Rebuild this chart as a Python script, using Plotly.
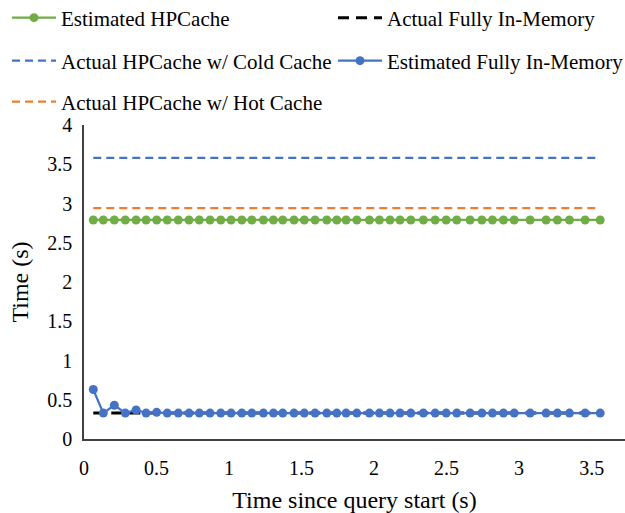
import plotly.graph_objects as go

time_s = [0.064, 0.133, 0.209, 0.285, 0.359, 0.428, 0.501, 0.574, 0.650, 0.724,
          0.795, 0.869, 0.943, 1.014, 1.088, 1.157, 1.237, 1.306, 1.370, 1.448,
          1.519, 1.593, 1.674, 1.743, 1.807, 1.881, 1.968, 2.037, 2.110, 2.179,
          2.253, 2.340, 2.421, 2.497, 2.570, 2.662, 2.743, 2.816, 2.892, 2.966,
          3.076, 3.186, 3.264, 3.347, 3.455, 3.559]

est_hpcache = [2.79, 2.79, 2.79, 2.79, 2.79, 2.79, 2.79, 2.79, 2.79, 2.79,
               2.79, 2.79, 2.79, 2.79, 2.79, 2.79, 2.79, 2.79, 2.79, 2.79,
               2.79, 2.79, 2.79, 2.79, 2.79, 2.79, 2.79, 2.79, 2.79, 2.79,
               2.79, 2.79, 2.79, 2.79, 2.79, 2.79, 2.79, 2.79, 2.79, 2.79,
               2.79, 2.79, 2.79, 2.79, 2.79, 2.79]

est_fully_in_memory = [0.63, 0.33, 0.43, 0.33, 0.37, 0.33, 0.34, 0.33, 0.33, 0.33,
                       0.33, 0.33, 0.33, 0.33, 0.33, 0.33, 0.33, 0.33, 0.33, 0.33,
                       0.33, 0.33, 0.33, 0.33, 0.33, 0.33, 0.33, 0.33, 0.33, 0.33,
                       0.33, 0.33, 0.33, 0.33, 0.33, 0.33, 0.33, 0.33, 0.33, 0.33,
                       0.33, 0.33, 0.33, 0.33, 0.33, 0.33]

actual_span = [0.064, 3.559]
actual_fully_in_memory = [0.33, 0.33]
actual_cold_cache = [3.58, 3.58]
actual_hot_cache = [2.94, 2.94]

x_ticks = [0, 0.5, 1, 1.5, 2, 2.5, 3, 3.5]
y_ticks = [0, 0.5, 1, 1.5, 2, 2.5, 3, 3.5, 4]

GREEN = "#70AD47"
BLUE = "#4472C4"
ORANGE = "#ED7D31"
FONT = "Liberation Serif"

fig = go.Figure()

fig.add_trace(go.Scatter(x=actual_span, y=actual_cold_cache, mode="lines",
                         name="Actual HPCache w/ Cold Cache",
                         line=dict(color=BLUE, width=2.25, dash="8px,5px"),
                         legend="legend3"))
fig.add_trace(go.Scatter(x=actual_span, y=actual_hot_cache, mode="lines",
                         name="Actual HPCache w/ Hot Cache",
                         line=dict(color=ORANGE, width=2.25, dash="8px,5px"),
                         legend="legend5"))
fig.add_trace(go.Scatter(x=actual_span, y=actual_fully_in_memory, mode="lines",
                         name="Actual Fully In-Memory",
                         line=dict(color="black", width=3, dash="11px,7px"),
                         legend="legend2"))
fig.add_trace(go.Scatter(x=time_s, y=est_hpcache, mode="lines+markers",
                         name="Estimated HPCache",
                         line=dict(color=GREEN, width=2.25),
                         marker=dict(color=GREEN, size=9),
                         legend="legend"))
fig.add_trace(go.Scatter(x=time_s, y=est_fully_in_memory, mode="lines+markers",
                         name="Estimated Fully In-Memory",
                         line=dict(color=BLUE, width=2.25),
                         marker=dict(color=BLUE, size=9),
                         legend="legend4"))

W, H = 625, 513

def leg(x_px, y_px):
    return dict(xref="container", yref="container", x=x_px / W, y=1 - y_px / H,
                xanchor="left", yanchor="middle", bgcolor="rgba(0,0,0,0)",
                font=dict(family=FONT, size=21, color="black"),
                itemwidth=44, orientation="h", tracegroupgap=0)

fig.update_layout(
    width=W, height=H,
    margin=dict(l=84, r=0, t=125, b=74, autoexpand=False),
    paper_bgcolor="white", plot_bgcolor="white",
    font=dict(family=FONT, size=19, color="black"),
    showlegend=True,
    legend=leg(7, 18),
    legend2=leg(333, 18),
    legend3=leg(7, 61),
    legend4=leg(333, 61),
    legend5=leg(7, 102),
    xaxis=dict(range=[0, 3.73], tickvals=x_ticks, ticktext=[f"{v:g}" for v in x_ticks],
               showgrid=False, zeroline=False, showline=True, linecolor="#404040",
               linewidth=1.5, ticks="", tickfont=dict(size=20), ticklabelstandoff=10,
               automargin=False,
               title=dict(text="Time since query start (s)", font=dict(size=24), standoff=14)),
    yaxis=dict(range=[0, 4], tickvals=y_ticks, ticktext=[f"{v:g}" for v in y_ticks],
               showgrid=False, zeroline=False, showline=True, linecolor="#404040",
               linewidth=1.5, ticks="", tickfont=dict(size=20), ticklabelstandoff=6,
               automargin=False,
               title=dict(text="Time (s)", font=dict(size=24), standoff=12)),
)

fig.write_html("out.html")
